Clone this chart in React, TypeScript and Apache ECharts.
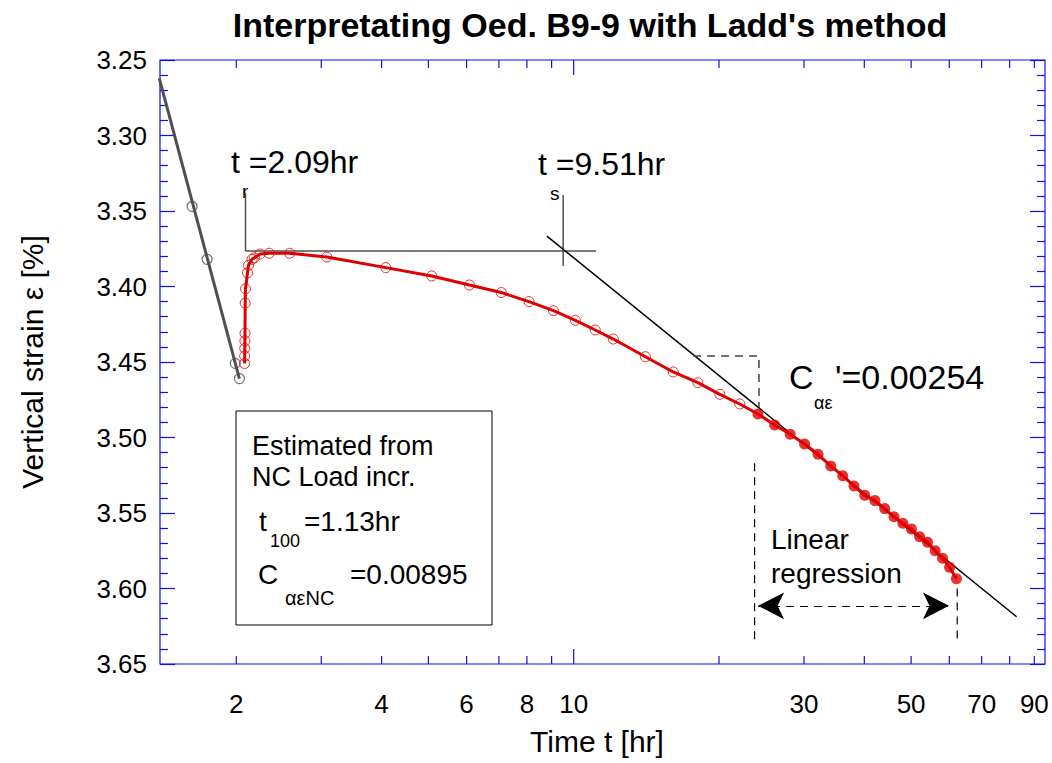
import React, { useEffect, useRef } from "react";
import * as echarts from "echarts";

const FONT = "'Liberation Sans', Arial, Helvetica, sans-serif";
const BLUE = "#1010e8";
const RED = "#e00000";
const GRAY = "#505050";

const chartTitle = "Interpretating Oed. B9-9 with Ladd's method";
const xAxisTitle = "Time t [hr]";
const yAxisTitle = "Vertical strain ε [%]";

const xRange = [1.39, 94.7];
const yRange = [3.25, 3.65];
const yInterval = 0.05;

const xTicks = [2, 3, 4, 5, 6, 7, 8, 9, 10, 20, 30, 40, 50, 60, 70, 80, 90];
const xDecadeTicks = [10];
const xTickLabels = [2, 4, 6, 8, 10, 30, 50, 70, 90];

// previous load increment (gray)
const prevTime = [1.62, 1.74, 1.99, 2.03];
const prevStrain = [3.347, 3.382, 3.451, 3.461];
const prevLineTime = [1.385, 2.03];
const prevLineStrain = [3.262, 3.461];

// current increment, hollow points
const openTime = [2.081, 2.082, 2.083, 2.084, 2.085, 2.087, 2.09, 2.11, 2.12, 2.156, 2.18, 2.24, 2.34, 2.58,
  3.08, 4.08, 5.08, 6.08, 7.08, 8.08, 9.08, 10.08, 11.08, 12.08, 14.08, 16.08, 18.08, 20.08, 22.08];
const openStrain = [3.451, 3.446, 3.441, 3.436, 3.431, 3.411, 3.4015, 3.391, 3.386, 3.382, 3.381, 3.3785, 3.378, 3.378,
  3.3805, 3.3875, 3.393, 3.399, 3.404, 3.41, 3.416, 3.4224, 3.4288, 3.4348, 3.4465, 3.4566, 3.4637, 3.4714, 3.4778];

// regression points (filled)
const fillTime = [24.08, 26.08, 28.08, 30.08, 32.08, 34.08, 36.08, 38.08, 40.08, 42.08, 44.08, 46.08, 48.08, 50.08,
  52.08, 54.08, 56.08, 58.08, 60.08, 62.08];
const fillStrain = [3.4844, 3.4917, 3.4979, 3.5043, 3.5111, 3.5189, 3.5253, 3.5321, 3.5383, 3.5418, 3.5471, 3.5525,
  3.5568, 3.5606, 3.5657, 3.5694, 3.575, 3.58, 3.586, 3.5935];

// construction lines
const trTime = 2.09;
const tsTime = 9.51;
const trLineStrain = [3.338, 3.3765];
const tsLineStrain = [3.3394, 3.3864];
const hLineTime = [2.09, 11.12];
const hLineStrain = 3.3765;
const tangentTime = [8.8, 82.7];
const tangentStrain = [3.3666, 3.6187];
const slopeTriTime = [17.67, 24.2, 24.2];
const slopeTriStrain = [3.446, 3.446, 3.48];
const regStartTime = 23.7;
const regEndTime = 62.3;
const regStartStrain = [3.517, 3.635];
const regEndStrain = [3.6, 3.635];
const arrowTime = [24.1, 59.9];
const arrowStrain = 3.6115;

const zip = (a: number[], b: number[]) => a.map((v, i) => [v, b[i]]);

function txt(text: string, x: number, y: number, size: number, extra: any = {}) {
  return {
    type: "text",
    x,
    y,
    silent: true,
    ...extra,
    style: {
      text,
      fontSize: size,
      fontFamily: FONT,
      fill: "#000",
      textAlign: extra.align || "left",
      align: extra.align || "left",
      textVerticalAlign: "middle",
      verticalAlign: "middle",
      fontWeight: extra.bold ? "bold" : "normal",
    },
  };
}

export default function App() {
  const ref = useRef<HTMLDivElement>(null);
  useEffect(() => {
    if (!ref.current) return;
    const chart = echarts.init(ref.current, null, { renderer: "svg" });
    const thinLine = (data: number[][], color: string, width: number, type: any = "solid", z = 3) => ({
      type: "line",
      data,
      symbol: "none",
      silent: true,
      clip: false,
      z,
      lineStyle: { color, width, type },
    });
    const option: any = {
      animation: false,
      grid: { left: 160, top: 60, right: 7, bottom: 99, show: true, borderColor: BLUE, borderWidth: 1.2, backgroundColor: "transparent" },
      xAxis: {
        type: "log",
        min: xRange[0],
        max: xRange[1],
        axisLine: { show: false },
        axisTick: { show: false },
        axisLabel: { show: false },
        splitLine: { show: false },
        minorTick: { show: false },
      },
      yAxis: [0, 1].map((i) => ({
        type: "value",
        inverse: true,
        min: yRange[0],
        max: yRange[1],
        interval: yInterval,
        position: i === 0 ? "left" : "right",
        axisLine: { show: false },
        axisTick: { show: true, inside: true, length: 15, lineStyle: { color: BLUE, width: 1.2 } },
        minorTick: { show: true, splitNumber: 5, length: 8, lineStyle: { color: BLUE, width: 1.2 } },
        axisLabel: {
          show: i === 0,
          formatter: (v: number) => v.toFixed(2),
          fontSize: 26,
          fontFamily: FONT,
          color: "#000",
          margin: 13,
        },
        splitLine: { show: false },
      })),
      series: [
        thinLine(zip(prevLineTime, prevLineStrain), GRAY, 3),
        {
          type: "scatter",
          data: zip(prevTime, prevStrain),
          symbol: "circle",
          symbolSize: 10,
          silent: true,
          z: 4,
          itemStyle: { color: "rgba(0,0,0,0)", borderColor: GRAY, borderWidth: 1.2 },
        },
        thinLine([trTime, trTime].map((t, i) => [t, trLineStrain[i]]), GRAY, 1.5),
        thinLine([tsTime, tsTime].map((t, i) => [t, tsLineStrain[i]]), GRAY, 1.5),
        thinLine(hLineTime.map((t) => [t, hLineStrain]), GRAY, 1.5),
        thinLine(zip(tangentTime, tangentStrain), "#000", 1.5),
        thinLine(zip(slopeTriTime, slopeTriStrain), "#444", 1.5, [8, 6]),
        thinLine(regStartStrain.map((s) => [regStartTime, s]), "#000", 1.2, [8, 6]),
        {
          ...thinLine(regEndStrain.map((s) => [regEndTime, s]), "#000", 1.2, [8, 6]),
          markLine: {
            silent: true,
            symbol: ["arrow", "arrow"],
            symbolSize: [20, 26],
            label: { show: false },
            lineStyle: { color: "#000", width: 1.2, type: [8, 6] },
            data: [[{ coord: [arrowTime[0], arrowStrain] }, { coord: [arrowTime[1], arrowStrain] }]],
          },
        },
        {
          type: "line",
          data: zip(openTime.concat(fillTime), openStrain.concat(fillStrain)),
          symbol: "none",
          silent: true,
          z: 5,
          lineStyle: { color: RED, width: 3 },
        },
        {
          type: "scatter",
          data: zip(openTime, openStrain),
          symbol: "circle",
          symbolSize: 10,
          silent: true,
          z: 6,
          itemStyle: { color: "rgba(0,0,0,0)", borderColor: RED, borderWidth: 1 },
        },
        {
          type: "scatter",
          data: zip(fillTime, fillStrain),
          symbol: "circle",
          symbolSize: 11,
          silent: true,
          z: 6,
          itemStyle: { color: RED },
        },
        {
          type: "custom",
          silent: true,
          z: 7,
          data: xTicks.map((t) => [t, yRange[1]]),
          renderItem: (params: any, api: any) => {
            const t = api.value(0);
            const b = api.coord([t, yRange[1]]);
            const tp = api.coord([t, yRange[0]]);
            const len = xDecadeTicks.indexOf(t) >= 0 ? 15 : 8;
            const st = { stroke: BLUE, lineWidth: 1.2 };
            return {
              type: "group",
              children: [
                { type: "line", shape: { x1: b[0], y1: b[1], x2: b[0], y2: b[1] - len }, style: st },
                { type: "line", shape: { x1: tp[0], y1: tp[1], x2: tp[0], y2: tp[1] + len }, style: st },
              ],
            };
          },
        },
        {
          type: "custom",
          silent: true,
          z: 7,
          data: xTickLabels.map((t) => [t, yRange[1]]),
          renderItem: (params: any, api: any) => {
            const t = api.value(0);
            const b = api.coord([t, yRange[1]]);
            return {
              type: "text",
              x: b[0],
              y: b[1] + 40,
              style: {
                text: String(t),
                fontSize: 26,
                fontFamily: FONT,
                fill: "#000",
                align: "center",
                verticalAlign: "middle",
                textAlign: "center",
                textVerticalAlign: "middle",
              },
            };
          },
        },
      ],
      graphic: [
        txt(chartTitle, 590, 25, 34, { align: "center", bold: true }),
        txt(xAxisTitle, 597, 741, 30, { align: "center" }),
        txt(yAxisTitle, 32, 362, 30, { align: "center", rotation: Math.PI / 2 }),
        txt("t =2.09hr", 231, 162, 32),
        txt("r", 242, 191, 19),
        txt("t =9.51hr", 538, 164, 32),
        txt("s", 550, 193, 19),
        txt("C", 789, 377, 34),
        txt("αε", 814, 403, 18),
        txt("'=0.00254", 835, 377, 34),
        txt("Linear", 771, 539, 28),
        txt("regression", 771, 573, 28),
        {
          type: "rect",
          silent: true,
          shape: { x: 236, y: 411, width: 256, height: 214 },
          style: { fill: "none", stroke: "#000", lineWidth: 1 },
        },
        txt("Estimated from", 252, 446, 27),
        txt("NC Load incr.", 252, 477, 27),
        txt("t", 259, 521, 28),
        txt("100", 270, 541, 18),
        txt("=1.13hr", 304, 521, 28),
        txt("C", 258, 574, 28),
        txt("αεNC", 285, 598, 20),
        txt("=0.00895", 350, 574, 28),
      ],
    };
    chart.setOption(option);
    return () => chart.dispose();
  }, []);
  return (
    <div
      ref={ref}
      style={{ position: "fixed", left: 0, top: 0, width: 1052, height: 763, background: "#fff" }}
    />
  );
}
